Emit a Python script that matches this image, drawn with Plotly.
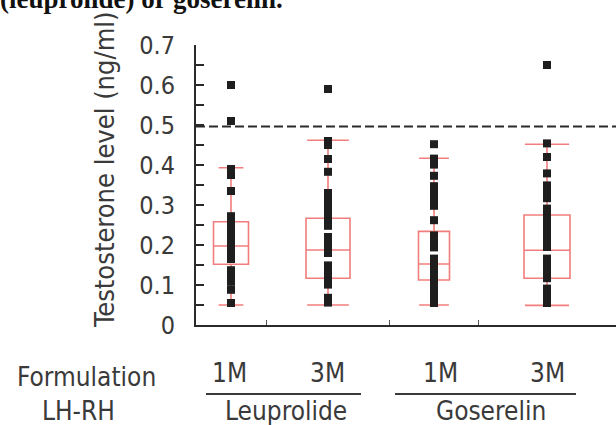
import plotly.graph_objects as go

# ---------------- data ----------------
groups = ["Leuprolide 1M", "Leuprolide 3M", "Goserelin 1M", "Goserelin 3M"]
formulation_labels = ["1M", "3M", "1M", "3M"]
drug_labels = ["Leuprolide", "Goserelin"]
ytick_values = [0, 0.1, 0.2, 0.3, 0.4, 0.5, 0.6, 0.7]
ytick_labels = ["0", "0.1", "0.2", "0.3", "0.4", "0.5", "0.6", "0.7"]
threshold = 0.496

q1 = [0.152, 0.117, 0.1125, 0.117]
median = [0.1975, 0.1875, 0.1525, 0.187]
q3 = [0.258, 0.267, 0.234, 0.275]
lowerfence = [0.05, 0.05, 0.05, 0.049]
upperfence = [0.393, 0.462, 0.417, 0.452]

leu_1m = [0.60, 0.51, 0.39, 0.375, 0.335, 0.272, 0.266, 0.26, 0.254, 0.248,
          0.242, 0.236, 0.23, 0.224, 0.218, 0.212, 0.206, 0.2, 0.194, 0.188,
          0.182, 0.176, 0.17, 0.165, 0.137, 0.131, 0.125, 0.119, 0.113, 0.108,
          0.088, 0.055]
leu_3m = [0.59, 0.46, 0.45, 0.415, 0.383, 0.33, 0.324, 0.318, 0.312, 0.306,
          0.3, 0.294, 0.288, 0.282, 0.276, 0.27, 0.264, 0.258, 0.252, 0.248,
          0.22, 0.214, 0.208, 0.202, 0.196, 0.19, 0.184, 0.18, 0.149, 0.143,
          0.137, 0.131, 0.125, 0.119, 0.113, 0.107, 0.101, 0.068, 0.062, 0.056]
gos_1m = [0.452, 0.416, 0.408, 0.401, 0.373, 0.347, 0.341, 0.335, 0.329,
          0.323, 0.317, 0.311, 0.305, 0.298, 0.262, 0.224, 0.218, 0.212,
          0.206, 0.2, 0.194, 0.166, 0.16, 0.154, 0.148, 0.142, 0.136, 0.13,
          0.124, 0.118, 0.112, 0.106, 0.1, 0.094, 0.088, 0.082, 0.076, 0.07,
          0.064, 0.058, 0.055]
gos_3m = [0.65, 0.454, 0.42, 0.379, 0.349, 0.343, 0.337, 0.331, 0.325, 0.317,
          0.291, 0.285, 0.279, 0.273, 0.267, 0.261, 0.255, 0.249, 0.243, 0.237,
          0.231, 0.225, 0.219, 0.213, 0.207, 0.201, 0.195, 0.166, 0.16, 0.154,
          0.148, 0.142, 0.136, 0.13, 0.124, 0.117, 0.091, 0.085, 0.079, 0.073,
          0.067, 0.061, 0.055]
points = [leu_1m, leu_3m, gos_1m, gos_3m]

# ---------------- layout constants ----------------
W, H = 616, 425
ML, MT, MB, MR = 196, 45, 100, 0
XR = (W - ML - MR) / 100.0          # x range in data units (100 px per unit)
xpos = [0.35, 1.32, 2.38, 3.51]      # group centres
box_w = [0.35, 0.44, 0.31, 0.46]
whisk_w = [0.71, 0.95, 0.96, 0.96]
xticks = [0.70, 1.93, 2.82]

def py(pix):  # pixel y -> paper y
    return (H - MB - pix) / (H - MT - MB)

def px(pix):  # pixel x -> paper x
    return (pix - ML) / (W - ML - MR)

fig = go.Figure()

red = "rgba(236,70,70,0.7)"
for i in range(4):
    fig.add_trace(go.Box(
        x=[xpos[i]], q1=[q1[i]], median=[median[i]], q3=[q3[i]],
        lowerfence=[lowerfence[i]], upperfence=[upperfence[i]],
        width=box_w[i], whiskerwidth=whisk_w[i], boxpoints=False,
        line=dict(color=red, width=1.6), fillcolor="rgba(0,0,0,0)",
        showlegend=False, hoverinfo="skip"))

for i in range(4):
    fig.add_trace(go.Scatter(
        x=[xpos[i]] * len(points[i]), y=points[i], mode="markers",
        marker=dict(symbol="square", size=8, color="#1e1e1e", opacity=1,
                    line=dict(width=0)),
        showlegend=False, cliponaxis=False))

# threshold dashed line
fig.add_shape(type="line", xref="paper", yref="y", x0=0, x1=1,
              y0=threshold, y1=threshold,
              line=dict(color="#2a2a2a", width=2, dash="9px,4px"))

yt_vals = [round(0.05 * k, 2) for k in range(15)]
yt_text = [ytick_labels[ytick_values.index(v)] if v in ytick_values else "" for v in yt_vals]

font_c = "DejaVu Sans Condensed, Liberation Sans Narrow, sans-serif"
fig.update_layout(
    width=W, height=H, margin=dict(l=ML, r=MR, t=MT, b=MB, autoexpand=False),
    paper_bgcolor="white", plot_bgcolor="white", boxmode="overlay",
    xaxis=dict(range=[0, XR], showgrid=False, zeroline=False, showline=True,
               linecolor="#2a2a2a", linewidth=2, ticks="inside", ticklen=5,
               tickwidth=1.2, tickcolor="#555", tickvals=xticks,
               showticklabels=False, automargin=False),
    yaxis=dict(range=[0, 0.7], showgrid=False, zeroline=False, showline=True,
               linecolor="#2a2a2a", linewidth=2, ticks="inside", ticklen=8,
               tickwidth=1.5, tickcolor="#2a2a2a", tickvals=yt_vals,
               ticktext=yt_text, ticklabelstandoff=14, automargin=False,
               tickfont=dict(family=font_c, size=25, color="#3a3a3a")),
)

def label(text, x, y, size, **kw):
    d = dict(text=text, xref="paper", yref="paper", x=px(x), y=py(y),
             xanchor="center", yanchor="middle", showarrow=False,
             font=dict(family=font_c, size=size, color="#3a3a3a"))
    d.update(kw)
    return d

ann = []
ann.append(label("Testosterone level (ng/ml)", 104, 170, 27, textangle=-90))
ann.append(dict(text="<b>(leuprolide) or goserelin.</b>", xref="paper", yref="paper",
                x=px(-2), y=py(-1), xanchor="left", yanchor="middle", showarrow=False,
                font=dict(family="Liberation Serif, Times New Roman, serif", size=27,
                          color="#111")))
ann.append(label("Formulation", 86, 377, 26))
ann.append(label("LH-RH", 78, 411, 26))
form_x = [229, 327, 440, 547]
for i in range(4):
    ann.append(label(formulation_labels[i], form_x[i], 373, 26))
drug_x = [286, 491]
for i in range(2):
    ann.append(label(drug_labels[i], drug_x[i], 411, 26))
fig.update_layout(annotations=ann)

for (a, b) in [(206, 361), (395, 576)]:
    fig.add_shape(type="line", xref="paper", yref="paper", x0=px(a), x1=px(b),
                  y0=py(394), y1=py(394), line=dict(color="#3a3a3a", width=2))

fig.write_html("out.html", config={"displayModeBar": False},
               post_script="document.body.style.margin='0';")
